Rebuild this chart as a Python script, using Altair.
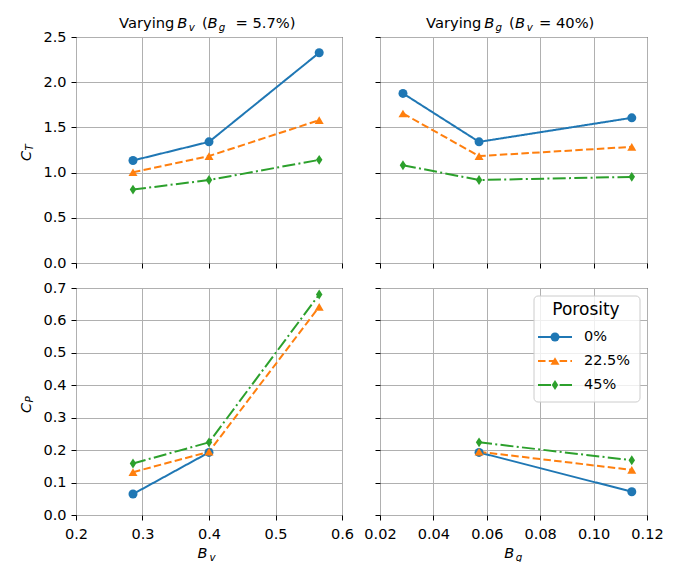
import altair as alt
import pandas as pd

# ---- categories / styling lists ----
POROSITY = ["0%", "22.5%", "45%"]
COLORS = ["#1f77b4", "#ff7f0e", "#2ca02c"]
DASHES = [[1, 0], [7.5, 3.3], [13, 3.3, 2, 3.3]]
SHAPES = ["circle", "M0,-0.85L1,0.85L-1,0.85Z", "M0,-1.1L0.72,0L0,1.1L-0.72,0Z"]

# ---- x values ----
BV = [0.2857, 0.4, 0.5657]
BG = [0.0286, 0.0571, 0.1143]

# ---- C_T values ----
CT_BV_0 = [1.134, 1.340, 2.326]
CT_BV_225 = [1.004, 1.183, 1.580]
CT_BV_45 = [0.812, 0.918, 1.141]

CT_BG_0 = [1.876, 1.340, 1.606]
CT_BG_225 = [1.654, 1.183, 1.285]
CT_BG_45 = [1.082, 0.918, 0.953]

# ---- C_P values ----
CP_BV_0 = [0.0646, 0.193, None]
CP_BV_225 = [0.132, 0.195, 0.642]
CP_BV_45 = [0.159, 0.224, 0.680]

CP_BG_0 = [None, 0.193, 0.0717]
CP_BG_225 = [None, 0.195, 0.139]
CP_BG_45 = [None, 0.224, 0.169]

# ---- tick values ----
XTICKS_BV = [0.2, 0.3, 0.4, 0.5, 0.6]
XTICKS_BG = [0.02, 0.04, 0.06, 0.08, 0.10, 0.12]
YTICKS_CT = [0.0, 0.5, 1.0, 1.5, 2.0, 2.5]
YTICKS_CP = [0.0, 0.1, 0.2, 0.3, 0.4, 0.5, 0.6, 0.7]

FONT = "DejaVu Sans"
ONE = pd.DataFrame({"k": [0]})


def long_df(xs, series):
    rows = []
    for name, ys in zip(POROSITY, series):
        for xv, yv in zip(xs, ys):
            if yv is not None:
                rows.append({"porosity": name, "x": xv, "y": yv})
    return pd.DataFrame(rows)


df_ct_bv = long_df(BV, [CT_BV_0, CT_BV_225, CT_BV_45])
df_ct_bg = long_df(BG, [CT_BG_0, CT_BG_225, CT_BG_45])
df_cp_bv = long_df(BV, [CP_BV_0, CP_BV_225, CP_BV_45])
df_cp_bg = long_df(BG, [CP_BG_0, CP_BG_225, CP_BG_45])


def txt(s, x, y, size, italic=False, angle=0, align="left", baseline="alphabetic"):
    kw = dict(font=FONT, fontSize=size, align=align, baseline=baseline, color="black")
    if italic:
        kw["fontStyle"] = "italic"
    if angle:
        kw["angle"] = angle
    return alt.Chart(ONE).mark_text(**kw).encode(
        x=alt.value(x), y=alt.value(y), text=alt.value(s)
    )


color = alt.Color("porosity:N", scale=alt.Scale(domain=POROSITY, range=COLORS), legend=None)
dash = alt.StrokeDash("porosity:N", scale=alt.Scale(domain=POROSITY, range=DASHES), legend=None)
shape = alt.Shape("porosity:N", scale=alt.Scale(domain=POROSITY, range=SHAPES), legend=None)


def panel(df, xdom, xvals, xfmt, ydom, yvals, xl, yl, w, h, extras):
    x = alt.X("x:Q", scale=alt.Scale(domain=xdom, nice=False, zero=False),
              axis=alt.Axis(values=xvals, format=xfmt, labels=xl, title=None))
    y = alt.Y("y:Q", scale=alt.Scale(domain=ydom, nice=False, zero=False),
              axis=alt.Axis(values=yvals, format=".1f", labels=yl, title=None))
    base = alt.Chart(df)
    lines = base.mark_line(strokeWidth=2).encode(x=x, y=y, color=color, strokeDash=dash)
    pts = base.mark_point(filled=True, size=81, opacity=1).encode(x=x, y=y, color=color, shape=shape)
    return alt.layer(lines, pts, *extras).properties(width=w, height=h)


TS = 14.7   # title size
SS = 10.3   # subscript size
LS = 14.5   # label size

title_tl = [
    txt("Varying", 43, -8.7, TS),
    txt("B", 101.2, -8.7, TS, italic=True),
    txt("v", 112.8, -6, SS, italic=True),
    txt("(", 126, -8.7, TS),
    txt("B", 131.5, -8.7, TS, italic=True),
    txt("g", 142.8, -6, SS, italic=True),
    txt("= 5.7%)", 159.5, -8.7, TS),
]
title_tr = [
    txt("Varying", 46, -8.7, TS),
    txt("B", 104.3, -8.7, TS, italic=True),
    txt("g", 115.5, -6, SS, italic=True),
    txt("(", 129, -8.7, TS),
    txt("B", 135, -8.7, TS, italic=True),
    txt("v", 146.8, -6, SS, italic=True),
    txt("= 40%)", 159, -8.7, TS),
]
ytitle_ct = [
    txt("C", -45.5, 124, LS, italic=True, angle=270),
    txt("T", -43, 113.5, SS, italic=True, angle=270),
]
ytitle_cp = [
    txt("C", -45.5, 125, LS, italic=True, angle=270),
    txt("P", -43, 114.5, SS, italic=True, angle=270),
]
xtitle_bv = [
    txt("B", 121.5, 270, LS, italic=True),
    txt("v", 133.5, 273, SS, italic=True),
]
xtitle_bg = [
    txt("B", 124.3, 270, LS, italic=True),
    txt("g", 135.8, 273, SS, italic=True),
]

legend = [
    alt.Chart(ONE).mark_rect(fill="white", fillOpacity=0.8, stroke="#cccccc", strokeWidth=1,
                             cornerRadius=4).encode(
        x=alt.value(154), x2=alt.value(260), y=alt.value(8), y2=alt.value(114)),
    txt("Porosity", 206, 27.3, 17, align="center"),
]
for i, (p, c, d, s) in enumerate(zip(POROSITY, COLORS, DASHES, SHAPES)):
    yy = 49 + 24 * i
    legend.append(alt.Chart(ONE).mark_rule(color=c, strokeWidth=2, strokeDash=d).encode(
        x=alt.value(158), x2=alt.value(192), y=alt.value(yy)))
    legend.append(alt.Chart(ONE).mark_point(filled=True, color=c, shape=s, size=81, opacity=1).encode(
        x=alt.value(175), y=alt.value(yy)))
    legend.append(txt(p, 204, yy, LS, baseline="middle"))

tl = panel(df_ct_bv, [0.2, 0.6], XTICKS_BV, ".1f", [0, 2.5], YTICKS_CT, False, True, 266, 226,
           title_tl + ytitle_ct)
tr = panel(df_ct_bg, [0.02, 0.12], XTICKS_BG, ".2f", [0, 2.5], YTICKS_CT, False, False, 267, 226,
           title_tr)
bl = panel(df_cp_bv, [0.2, 0.6], XTICKS_BV, ".1f", [0, 0.7], YTICKS_CP, True, True, 266, 227,
           ytitle_cp + xtitle_bv)
br = panel(df_cp_bg, [0.02, 0.12], XTICKS_BG, ".2f", [0, 0.7], YTICKS_CP, True, False, 267, 227,
           xtitle_bg + legend)

chart = alt.concat(tl, tr, bl, br, columns=2, spacing={"row": 25, "column": 38}, bounds="flush").properties(
    padding={"left": 10, "top": 7, "right": 5, "bottom": 5},
    background="white",
).configure_axis(
    grid=True, gridColor="#b0b0b0", gridWidth=1, domain=False,
    tickColor="black", tickSize=5, tickWidth=1,
    labelFont=FONT, labelFontSize=LS, labelColor="black",
    labelFlush=False, labelOverlap=False,
).configure_axisX(labelPadding=7).configure_axisY(labelPadding=5).configure_view(
    stroke="black", strokeWidth=1
)

chart.save("out.html", embed_options={"renderer": "svg", "actions": False})
